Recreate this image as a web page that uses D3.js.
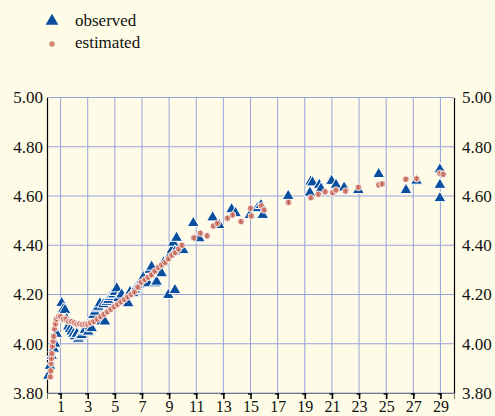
<!DOCTYPE html>
<html>
<head>
<meta charset="utf-8">
<script src="https://cdn.jsdelivr.net/npm/d3@7"></script>
<style>
  body { margin: 0; background: #fefce6; }
  svg { display: block; }
  text { font-family: "Liberation Serif", "Times New Roman", serif; fill: #111; }
</style>
</head>
<body>
<div id="chart"></div>
<script>
// observed values (triangles)
const obsX = [0.1, 0.22, 0.35, 0.5, 0.59, 0.71, 1.08, 1.2, 1.33, 1.45, 1.57, 1.7, 1.82, 1.95, 2.06, 2.2, 2.31, 2.43, 2.55, 2.68, 2.8, 3.04, 3.17, 3.29, 3.41, 3.54, 3.66, 3.78, 3.9, 4.03, 4.15, 4.27, 4.4, 4.52, 4.65, 4.77, 4.9, 5.02, 5.14, 5.26, 5.5, 5.75, 5.99, 6.12, 6.36, 6.48, 6.6, 6.8, 6.98, 7.1, 7.34, 7.46, 7.58, 7.71, 7.96, 8.08, 8.2, 8.45, 8.6, 8.94, 9.06, 9.2, 9.31, 9.43, 9.43, 9.55, 9.8, 10.04, 10.78, 11.23, 12.21, 12.7, 13.61, 13.9, 14.96, 15.5, 15.77, 15.9, 17.78, 19.38, 19.43, 19.57, 20.07, 20.2, 20.9, 20.98, 21.3, 21.9, 22.95, 24.45, 26.46, 27.24, 28.96, 28.96, 28.96];
const obsY = [3.87, 3.91, 3.95, 3.98, 4.0, 4.04, 4.165, 4.14, 4.137, 4.1, 4.07, 4.06, 4.05, 4.04, 4.03, 4.04, 4.02, 4.03, 4.035, 4.05, 4.056, 4.049, 4.07, 4.063, 4.117, 4.13, 4.144, 4.15, 4.164, 4.09, 4.16, 4.09, 4.17, 4.178, 4.19, 4.198, 4.2, 4.21, 4.225, 4.185, 4.2, 4.18, 4.164, 4.21, 4.205, 4.22, 4.23, 4.24, 4.259, 4.27, 4.252, 4.245, 4.3, 4.313, 4.245, 4.252, 4.3, 4.286, 4.33, 4.198, 4.36, 4.38, 4.41, 4.374, 4.218, 4.43, 4.38, 4.38, 4.49, 4.428, 4.513, 4.482, 4.546, 4.53, 4.523, 4.55, 4.563, 4.523, 4.60, 4.613, 4.658, 4.655, 4.645, 4.63, 4.66, 4.661, 4.645, 4.634, 4.624, 4.689, 4.624, 4.662, 4.708, 4.645, 4.591];

// estimated values (circles)
const estX = [0.25, 0.28, 0.3, 0.33, 0.36, 0.4, 0.45, 0.5, 0.55, 0.62, 0.7, 0.85, 1.0, 1.2, 1.4, 1.6, 1.8, 2.0, 2.2, 2.4, 2.6, 2.8, 3.0, 3.2, 3.45, 3.7, 3.95, 4.2, 4.45, 4.7, 4.95, 5.2, 5.45, 5.7, 5.95, 6.2, 6.45, 6.7, 6.95, 7.2, 7.45, 7.7, 7.95, 8.2, 8.45, 8.7, 8.95, 9.2, 9.45, 9.7, 9.95, 10.83, 11.3, 11.8, 12.26, 12.55, 13.3, 13.68, 14.3, 15.0, 15.06, 15.8, 16.0, 17.8, 19.45, 20.0, 20.5, 21.05, 21.3, 22.0, 22.95, 24.45, 24.7, 26.45, 27.24, 28.96, 29.2];
const estY = [3.866, 3.89, 3.92, 3.94, 3.96, 3.99, 4.01, 4.03, 4.06, 4.08, 4.10, 4.11, 4.11, 4.10, 4.10, 4.09, 4.09, 4.085, 4.08, 4.08, 4.078, 4.08, 4.08, 4.085, 4.09, 4.1, 4.11, 4.12, 4.13, 4.14, 4.15, 4.16, 4.17, 4.18, 4.19, 4.2, 4.21, 4.23, 4.25, 4.26, 4.27, 4.28, 4.295, 4.31, 4.32, 4.33, 4.345, 4.36, 4.37, 4.385, 4.40, 4.43, 4.449, 4.438, 4.478, 4.489, 4.51, 4.523, 4.496, 4.55, 4.519, 4.56, 4.543, 4.574, 4.593, 4.607, 4.617, 4.613, 4.624, 4.62, 4.635, 4.645, 4.649, 4.668, 4.67, 4.692, 4.688];

const xTicks = [1, 3, 5, 7, 9, 11, 13, 15, 17, 19, 21, 23, 25, 27, 29];
const yTicks = [3.8, 4.0, 4.2, 4.4, 4.6, 4.8, 5.0];
const legendLabels = ["observed", "estimated"];

const W = 495, H = 416;
const margin = { top: 97.5, right: 41, bottom: 23, left: 47 };

const svg = d3.select("#chart").append("svg")
  .attr("width", W).attr("height", H);

svg.append("rect").attr("width", W).attr("height", H).attr("fill", "#fefce6");

const x = d3.scaleLinear().domain([0, 30]).range([margin.left, W - margin.right]);
const y = d3.scaleLinear().domain([3.8, 5.0]).range([H - margin.bottom, margin.top]);

// grid
svg.append("g").selectAll("line").data(xTicks).enter().append("line")
  .attr("x1", d => x(d)).attr("x2", d => x(d))
  .attr("y1", y(5.0)).attr("y2", y(3.8))
  .attr("stroke", "#98a2dc").attr("stroke-width", 1);
svg.append("g").selectAll("line").data(yTicks).enter().append("line")
  .attr("x1", x(0)).attr("x2", x(30))
  .attr("y1", d => y(d)).attr("y2", d => y(d))
  .attr("stroke", "#98a2dc").attr("stroke-width", 1);

// left / right axis
const yLeft = svg.append("g").attr("transform", "translate(" + x(0) + ",0)")
  .call(d3.axisLeft(y).tickValues(yTicks).tickFormat(d3.format(".2f")).tickSize(0).tickPadding(4));
const yRight = svg.append("g").attr("transform", "translate(" + x(30) + ",0)")
  .call(d3.axisRight(y).tickValues(yTicks).tickFormat(d3.format(".2f")).tickSize(0).tickPadding(8));
[yLeft, yRight].forEach(g => {
  g.select(".domain").attr("stroke", "#000").attr("stroke-width", 1.2);
  g.selectAll("text").style("font-family", "Liberation Serif").style("font-size", "17px").attr("fill", "#111");
});

// bottom axis
const xAxis = svg.append("g").attr("transform", "translate(0," + y(3.8) + ")")
  .call(d3.axisBottom(x).tickValues(xTicks).tickSizeOuter(0).tickSize(6).tickPadding(2));
xAxis.select(".domain").attr("stroke", "#777").attr("stroke-width", 1);
xAxis.selectAll(".tick line").attr("stroke", "#000").attr("stroke-width", 1.6);
xAxis.selectAll(".tick").append("line")
  .attr("x1", -3).attr("x2", 1).attr("y1", 1).attr("y2", 1)
  .attr("stroke", "#000").attr("stroke-width", 1.4);
xAxis.selectAll("text").style("font-family", "Liberation Serif").style("font-size", "16px").attr("fill", "#111");

const tri = d3.symbol().type(d3.symbolTriangle).size(62);

// observed
svg.append("g").selectAll("path").data(obsX).enter().append("path")
  .attr("d", tri)
  .attr("transform", (d, i) => "translate(" + x(d) + "," + y(obsY[i]) + ")")
  .attr("fill", "#0a4f9e").attr("stroke", "#fff").attr("stroke-width", 1);

// estimated
const est = svg.append("g").selectAll("g").data(estX).enter().append("g")
  .attr("transform", (d, i) => "translate(" + x(d) + "," + y(estY[i]) + ")");
est.append("circle").attr("r", 3.3)
  .attr("fill", "#d4887a").attr("stroke", "#fff").attr("stroke-width", 0.8);
est.append("line").attr("x1", 0).attr("x2", 0).attr("y1", -2.2).attr("y2", 2.2)
  .attr("stroke", "#b04a3c").attr("stroke-width", 0.8);

// legend
const leg = svg.append("g");
leg.append("path").attr("d", d3.symbol().type(d3.symbolTriangle).size(70)).attr("transform", "translate(52,21)")
  .attr("fill", "#0a4f9e");
leg.append("circle").attr("cx", 52).attr("cy", 44).attr("r", 2.8).attr("fill", "#d4887a");
leg.selectAll("text").data(legendLabels).enter().append("text")
  .attr("x", 75).attr("y", (d, i) => 26 + i * 22)
  .style("font-size", "17px")
  .text(d => d);
</script>
</body>
</html>
